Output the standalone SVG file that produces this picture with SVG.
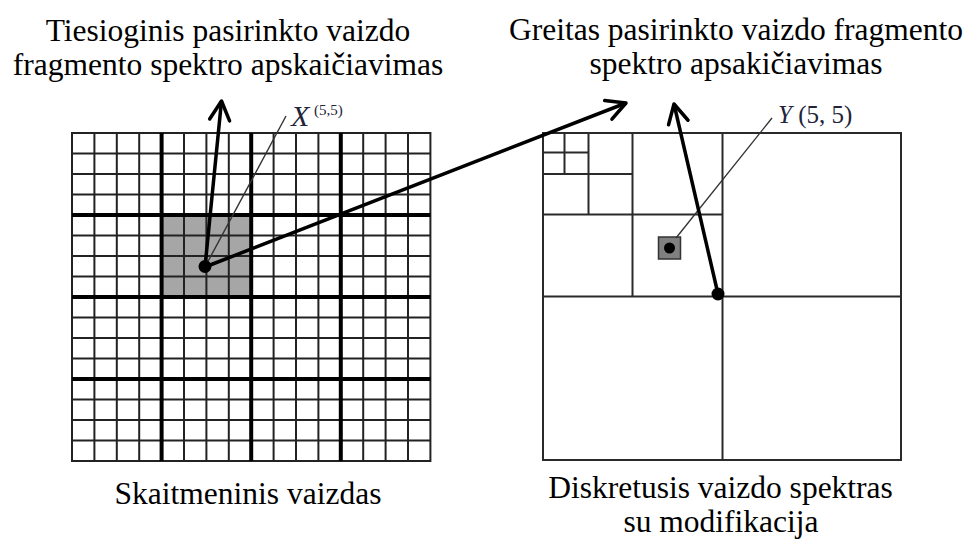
<svg xmlns="http://www.w3.org/2000/svg" width="972" height="540" viewBox="0 0 972 540">
  <style>
    .t { font-family: "Liberation Serif", "Times New Roman", serif; font-size: 31.5px; fill: #000; text-anchor: middle; }
    .lbl { font-family: "Liberation Serif", "Times New Roman", serif; fill: #23233a; }
    .thin { stroke: #222; stroke-width: 2; fill: none; }
    .thick { stroke: #000; stroke-width: 4; fill: none; }
    .rg { stroke: #2a2a2a; stroke-width: 2; fill: none; }
    .arrow { stroke: #000; stroke-width: 3.5; fill: none; marker-end: url(#arr); }
    .lead { stroke: #333; stroke-width: 1.4; fill: none; }
  </style>
  <defs>
    <marker id="arr" markerUnits="userSpaceOnUse" viewBox="-25 -15 30 30" markerWidth="30" markerHeight="30" refX="0" refY="0" orient="auto" overflow="visible">
      <path d="M-19,-10 L0,0 L-19,10" fill="none" stroke="#000" stroke-width="3.5" stroke-linecap="round" stroke-linejoin="round"/>
    </marker>
  </defs>
  <rect width="972" height="540" fill="#fff"/>

  <!-- titles -->
  <g id="title-left">
    <text class="t" x="228" y="41">Tiesioginis pasirinkto vaizdo</text>
    <text class="t" x="228" y="74.5">fragmento spektro apskaičiavimas</text>
  </g>
  <g id="title-right">
    <text class="t" x="736" y="40">Greitas pasirinkto vaizdo fragmento</text>
    <text class="t" x="736" y="74">spektro apsakičiavimas</text>
  </g>

  <!-- left image grid -->
  <g id="image-grid">
    <rect x="161.6" y="215" width="89.6" height="82" fill="#a6a6a6"/>
    <path class="thin" d="M94.4 133V461M116.8 133V461M139.2 133V461M184 133V461M206.4 133V461M228.8 133V461M273.6 133V461M296 133V461M318.4 133V461M363.2 133V461M385.6 133V461M408 133V461M72 153.5H430.4M72 174H430.4M72 194.5H430.4M72 235.5H430.4M72 256H430.4M72 276.5H430.4M72 317.5H430.4M72 338H430.4M72 358.5H430.4M72 399.5H430.4M72 420H430.4M72 440.5H430.4"/>
    <rect class="thin" x="72" y="133" width="358.4" height="328"/>
    <path class="thick" d="M161.6 133V461M251.2 133V461M340.8 133V461M72 215H430.4M72 297H430.4M72 379H430.4"/>
    <text class="t" x="248" y="504">Skaitmeninis vaizdas</text>
  </g>

  <!-- right spectrum grid -->
  <g id="spectrum-grid">
    <rect class="rg" x="543" y="133" width="358" height="327"/>
    <path class="rg" d="M722.5 133V460M543 296.5H901M632.5 133V296.5M543 214.5H722.5M588.5 133V214.5M543 174H632.5M564.5 133V174M543 152.5H588.5"/>
    <rect x="658.5" y="237" width="22" height="22" fill="#808080" stroke="#333" stroke-width="1.5"/>
    <text class="t" x="720.5" y="498">Diskretusis vaizdo spektras</text>
    <text class="t" x="721" y="532">su modifikacija</text>
  </g>

  <!-- labels -->
  <g id="label-x">
    <text class="lbl" x="291" y="126" font-size="30" font-style="italic">X</text>
    <text class="lbl" x="314" y="115" font-size="15">(5,5)</text>
  </g>
  <g id="label-y">
    <text class="lbl" x="778" y="123" font-size="25"><tspan font-style="italic">Y</tspan> (5, 5)</text>
  </g>

  <!-- connectors -->
  <g id="connectors">
    <line class="lead" x1="205" y1="267" x2="286" y2="116"/>
    <line class="lead" x1="676" y1="238" x2="772" y2="118"/>
    <line class="arrow" x1="205" y1="267" x2="221.5" y2="101"/>
    <line class="arrow" x1="205" y1="267" x2="626" y2="103"/>
    <line class="arrow" x1="718" y1="294" x2="674" y2="104"/>
    <circle cx="205" cy="266.5" r="6.5" fill="#000"/>
    <circle cx="669.5" cy="248" r="5.5" fill="#000"/>
    <circle cx="718" cy="294" r="6.5" fill="#000"/>
  </g>
</svg>
